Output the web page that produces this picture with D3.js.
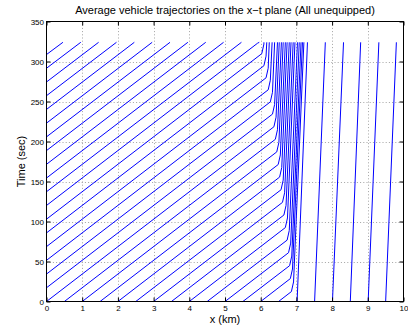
<!DOCTYPE html>
<html>
<head>
<meta charset="utf-8">
<script src="https://cdn.jsdelivr.net/npm/d3@7"></script>
<style>
  html, body { margin: 0; padding: 0; background: #fff; }
  svg { display: block; font-family: "Liberation Sans", Arial, Helvetica, sans-serif; }
</style>
</head>
<body>
<svg id="chart" width="408" height="331"></svg>
<script>
// Axis ticks
const xTicks = [0, 1, 2, 3, 4, 5, 6, 7, 8, 9, 10];
const yTicks = [0, 50, 100, 150, 200, 250, 300, 350];

// Vehicles entering the section: each trajectory is a list of [x (km), t (s)]
// Vehicles that never reach the queue before the end of the run
const freeFlowTrajectories = [
  [[0, 137.2], [5.46, 324]],
  [[0, 154.35], [4.96, 324]],
  [[0, 171.5], [4.46, 324]],
  [[0, 188.65], [3.96, 324]],
  [[0, 205.8], [3.46, 324]],
  [[0, 222.95], [2.96, 324]],
  [[0, 240.1], [2.46, 324]],
  [[0, 257.25], [1.96, 324]],
  [[0, 274.4], [1.46, 324]],
  [[0, 291.55], [0.96, 324]],
  [[0, 308.7], [0.46, 324]]
];

// Vehicles that run into the queue upstream of the bottleneck near x = 7 km
const queuedTrajectories = [
  [[6.5, 0], [6.86, 12.4], [6.92, 24.4], [7.21, 324]],
  [[6.0, 0], [6.83, 28.6], [6.89, 40.6], [7.17, 324]],
  [[5.5, 0], [6.81, 44.8], [6.87, 56.8], [7.13, 324]],
  [[5.0, 0], [6.78, 61.0], [6.84, 73.0], [7.08, 324]],
  [[4.5, 0], [6.74, 76.7], [6.80, 88.7], [7.03, 324]],
  [[4.0, 0], [6.69, 92.4], [6.75, 104.4], [6.96, 324]],
  [[3.5, 0], [6.65, 108.1], [6.71, 120.1], [6.91, 324]],
  [[3.0, 0], [6.61, 123.9], [6.67, 135.9], [6.85, 324]],
  [[2.5, 0], [6.57, 139.7], [6.63, 151.7], [6.80, 324]],
  [[2.0, 0], [6.53, 155.5], [6.59, 167.5], [6.74, 324]],
  [[1.5, 0], [6.49, 171.2], [6.55, 183.2], [6.69, 324]],
  [[1.0, 0], [6.45, 187.0], [6.51, 199.0], [6.63, 324]],
  [[0.5, 0], [6.41, 202.7], [6.47, 214.7], [6.58, 324]],
  [[0.0, 0], [6.37, 218.4], [6.43, 230.4], [6.52, 324]],
  [[0, 17.15], [6.33, 234.2], [6.39, 246.2], [6.47, 324]],
  [[0, 34.3], [6.27, 249.5], [6.33, 261.5], [6.39, 324]],
  [[0, 51.45], [6.21, 264.6], [6.27, 276.6], [6.32, 324]],
  [[0, 68.6], [6.15, 279.6], [6.21, 291.6], [6.24, 324]],
  [[0, 85.75], [6.09, 294.7], [6.15, 306.7], [6.17, 324]],
  [[0, 102.9], [6.03, 309.8], [6.09, 321.8], [6.09, 324]],
  [[0, 120.05], [5.91, 322.8], [5.96, 324]]
];

// Vehicles downstream of the bottleneck
const downstreamTrajectories = [
  [[7.02, 0], [7.31, 324]],
  [[7.51, 0], [7.81, 324]],
  [[8.01, 0], [8.32, 324]],
  [[8.51, 0], [8.80, 324]],
  [[9.01, 0], [9.31, 324]],
  [[9.50, 0], [9.80, 324]]
];

const titleText = "Average vehicle trajectories on the x\u2212t plane (All unequipped)";
const xLabelText = "x (km)";
const yLabelText = "Time (sec)";

const svg = d3.select("#chart");
const plot = { left: 46.5, right: 403.5, top: 21.5, bottom: 301.5 };

const x = d3.scaleLinear().domain([0, 10]).range([plot.left, plot.right]);
const y = d3.scaleLinear().domain([0, 350]).range([plot.bottom, plot.top]);

// Dotted grid
const grid = svg.append("g").attr("class", "grid")
  .attr("stroke", "#8c8c8c").attr("stroke-width", 0.8)
  .attr("stroke-dasharray", "1,2.2");
grid.selectAll("line.gx").data(xTicks.slice(1, -1)).join("line")
  .attr("x1", d => Math.round(x(d)) + 0.5).attr("x2", d => Math.round(x(d)) + 0.5)
  .attr("y1", plot.top).attr("y2", plot.bottom);
grid.selectAll("line.gy").data(yTicks.slice(1, -1)).join("line")
  .attr("y1", d => Math.round(y(d)) + 0.5).attr("y2", d => Math.round(y(d)) + 0.5)
  .attr("x1", plot.left).attr("x2", plot.right);

// Trajectories
const line = d3.line().x(d => x(d[0])).y(d => y(d[1]));
const allTrajectories = freeFlowTrajectories.concat(queuedTrajectories, downstreamTrajectories);
svg.append("g").attr("class", "trajectories")
  .selectAll("path").data(allTrajectories).join("path")
  .attr("d", line)
  .attr("fill", "none")
  .attr("stroke", "#0000ff")
  .attr("stroke-width", 1)
  .attr("stroke-linejoin", "round");

// Axes with inward ticks on all four sides
const tickLen = 4;
const fontSize = 8;
const xAxis = svg.append("g").attr("transform", `translate(0,${plot.bottom})`)
  .call(d3.axisBottom(x).tickValues(xTicks).tickSize(-tickLen).tickSizeOuter(0).tickPadding(4));
const yAxis = svg.append("g").attr("transform", `translate(${plot.left},0)`)
  .call(d3.axisLeft(y).tickValues(yTicks).tickSize(-tickLen).tickSizeOuter(0).tickPadding(2.5));
const xAxisTop = svg.append("g").attr("transform", `translate(0,${plot.top})`)
  .call(d3.axisTop(x).tickValues(xTicks).tickSize(-tickLen).tickSizeOuter(0).tickFormat(""));
const yAxisRight = svg.append("g").attr("transform", `translate(${plot.right},0)`)
  .call(d3.axisRight(y).tickValues(yTicks).tickSize(-tickLen).tickSizeOuter(0).tickFormat(""));

[xAxis, yAxis, xAxisTop, yAxisRight].forEach(g => {
  g.select(".domain").remove();
  g.selectAll(".tick line").attr("stroke", "#000").attr("stroke-width", 1);
  g.selectAll(".tick text").attr("fill", "#000")
    .style("font-size", fontSize + "px")
    .style("font-family", "'Liberation Sans', Arial, Helvetica, sans-serif");
});

// Axes box
svg.append("rect")
  .attr("x", plot.left).attr("y", plot.top)
  .attr("width", plot.right - plot.left).attr("height", plot.bottom - plot.top)
  .attr("fill", "none").attr("stroke", "#000").attr("stroke-width", 1);

// Title and axis labels
svg.append("text")
  .attr("x", (plot.left + plot.right) / 2).attr("y", 14)
  .attr("text-anchor", "middle").style("font-size", "11px")
  .text(titleText);
svg.append("text")
  .attr("x", (plot.left + plot.right) / 2).attr("y", 322.5)
  .attr("text-anchor", "middle").style("font-size", "11px")
  .text(xLabelText);
svg.append("text")
  .attr("transform", `translate(25,${(plot.top + plot.bottom) / 2}) rotate(-90)`)
  .attr("text-anchor", "middle").style("font-size", "11px")
  .text(yLabelText);
</script>
</body>
</html>
